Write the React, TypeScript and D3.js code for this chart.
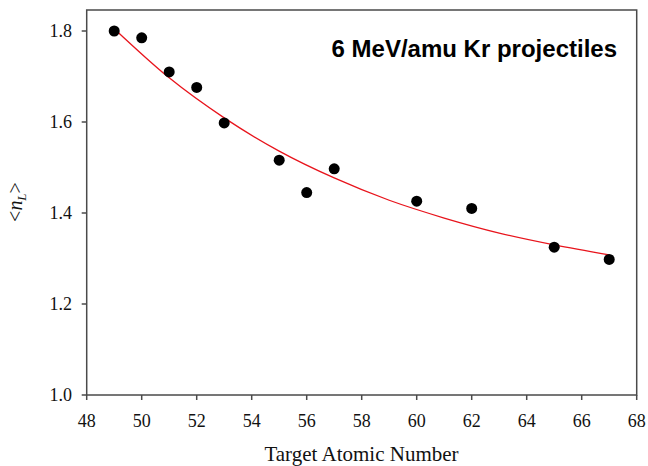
import React from "react";
import * as d3 from "d3";

const targetZ = [49, 50, 51, 52, 53, 55, 56, 57, 60, 62, 65, 67];
const meanNL = [1.80, 1.785, 1.71, 1.676, 1.598, 1.516, 1.445, 1.497, 1.426, 1.41, 1.325, 1.298];
const fitZ = [49, 51, 53, 55, 57, 59, 61, 63, 65, 67];
const fitNL = [1.805, 1.697, 1.609, 1.536, 1.477, 1.428, 1.389, 1.356, 1.330, 1.308];
const xTicks = [48, 50, 52, 54, 56, 58, 60, 62, 64, 66, 68];
const yTicks = [1.0, 1.2, 1.4, 1.6, 1.8];

export default function App() {
  const W = 648, H = 466;
  const left = 86.7, right = 636.7, top = 10, bottom = 395;
  const x = d3.scaleLinear().domain([48, 68]).range([left, right]);
  const y = d3.scaleLinear().domain([1.0, 1.0 + (bottom - top) / 455]).range([bottom, top]);
  const line = d3.line<number>().x((_, i) => x(fitZ[i])).y((d) => y(d)).curve(d3.curveMonotoneX);
  const axisColor = "#4a4a4a";
  const serif = "'Liberation Serif', 'Times New Roman', serif";
  return (
    <svg width={W} height={H} style={{ position: "absolute", left: 0, top: 0, background: "#fff" }}>
      <rect x={left} y={top} width={right - left} height={bottom - top} fill="none" stroke={axisColor} strokeWidth={1.5} />
      {xTicks.map((t) => (
        <g key={"x" + t}>
          <line x1={x(t)} x2={x(t)} y1={bottom} y2={bottom + 5} stroke={axisColor} strokeWidth={1.5} />
          <text x={x(t)} y={427} textAnchor="middle" fontFamily={serif} fontSize={18} fill="#111">{t}</text>
        </g>
      ))}
      {yTicks.map((t) => (
        <g key={"y" + t}>
          <line x1={left - 5} x2={left} y1={y(t)} y2={y(t)} stroke={axisColor} strokeWidth={1.5} />
          <text x={72} y={y(t) + 6} textAnchor="end" fontFamily={serif} fontSize={18} fill="#111">{t.toFixed(1)}</text>
        </g>
      ))}
      <path d={line(fitNL) || ""} fill="none" stroke="#e8141c" strokeWidth={1.3} />
      {targetZ.map((z, i) => (
        <circle key={"p" + z} cx={x(z)} cy={y(meanNL[i])} r={5.5} fill="#000" />
      ))}
      <text x={617} y={57} textAnchor="end" fontFamily="'Liberation Sans', Arial, sans-serif" fontWeight="bold" fontSize={24} fill="#000">6 MeV/amu Kr projectiles</text>
      <text x={361.5} y={461} textAnchor="middle" fontFamily={serif} fontSize={21} fill="#111">Target Atomic Number</text>
      <text transform="translate(22,202) rotate(-90)" textAnchor="middle" fontFamily={serif} fontSize={20} fill="#111">
        &lt;<tspan fontStyle="italic">n</tspan><tspan fontStyle="italic" fontSize={13} dy={4}>L</tspan><tspan dy={-4}>&gt;</tspan>
      </text>
    </svg>
  );
}
